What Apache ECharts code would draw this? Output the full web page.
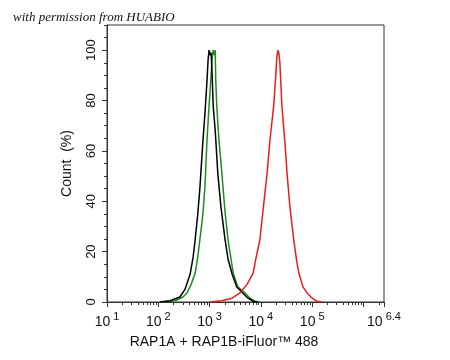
<!DOCTYPE html>
<html>
<head>
<meta charset="utf-8">
<script src="https://cdn.jsdelivr.net/npm/echarts@6/dist/echarts.min.js"></script>
<style>html,body{margin:0;padding:0;background:#fff}#c{width:450px;height:360px}</style>
</head>
<body>
<div id="c"></div>
<script>
// x values are log10(fluorescence intensity)
var blackX = [2.03,2.23,2.42,2.52,2.62,2.68,2.72,2.77,2.81,2.87,2.91,2.95,2.97,2.99,3.01,3.03,3.05,3.07,3.11,3.16,3.22,3.30,3.36,3.44,3.53,3.65,3.75,3.85,3.94];
var blackY = [0,0.5,2,5,11,18,25,35,45,64,75,88,96,100,98,99,90,78,68,51,38,25,17,11,6,3.5,1.5,0.3,0];
var greenX = [2.03,2.33,2.48,2.56,2.64,2.72,2.77,2.81,2.87,2.91,2.95,2.99,3.03,3.05,3.07,3.09,3.11,3.12,3.14,3.18,3.24,3.30,3.36,3.46,3.55,3.69,3.79,3.88,3.98];
var greenY = [0,0.5,2,3.6,7,11.5,18,24.7,35,46,64.5,78,90,97,100,98,100,88,77.7,65,51,36,24.7,11.5,6,3.6,1.5,0.3,0];
var redX = [3.01,3.24,3.44,3.59,3.73,3.85,3.90,3.98,4.04,4.12,4.18,4.25,4.29,4.31,4.33,4.35,4.37,4.41,4.47,4.51,4.57,4.64,4.70,4.74,4.82,4.90,5.00,5.09,5.19];
var redY = [0,0.5,1.5,3.6,7,11.5,17,24.7,36,51,65,78,90,97,100,99,95,78,63,51,37,24.7,16,11.5,6,3.6,1.5,0.3,0];

var xMajorTicks = [1,2,3,4,5,6,6.4];
var xLabelTicks = [1,2,3,4,5,6.4];
var yMajorTicks = [0,20,40,60,80,100];
var yMinorTicks = [5,10,15,25,30,35,45,50,55,65,70,75,85,90,95,105,110];

function zip(a,b){return a.map(function(v,i){return [v,b[i]];});}
var xMinorTicks = [];
for (var d = 1; d <= 6; d++) {
  for (var k = 2; k <= 9; k++) {
    var v = d + Math.log10(k);
    if (v < 6.4) xMinorTicks.push(v);
  }
}

var axisColor = '#333';
var chart = echarts.init(document.getElementById('c'), null, {renderer:'canvas'});
chart.setOption({
  animation:false,
  backgroundColor:'#fff',
  title:{
    text:'with permission from HUABIO',
    left:8, top:6,
    textStyle:{fontFamily:'Liberation Serif', fontStyle:'italic', fontWeight:'normal', fontSize:13, color:'#111'}
  },
  grid:{left:107, right:66, top:25, bottom:58, show:true, borderColor:axisColor, borderWidth:1, backgroundColor:'transparent'},
  xAxis:[{
    type:'value', min:1, max:6.4, interval:1,
    splitLine:{show:false},
    axisLine:{show:true, onZero:false, lineStyle:{color:axisColor, width:1}},
    axisTick:{show:true, customValues:xMajorTicks, length:5, lineStyle:{color:axisColor}},
    axisLabel:{
      customValues:xLabelTicks, margin:9, color:'#111',
      formatter:function(v){ var e = (Math.abs(v-6.4)<1e-6) ? '6.4' : String(Math.round(v)); return '{b|10}{s|' + e + '}'; },
      rich:{
        b:{fontFamily:'Liberation Sans', fontSize:14, color:'#111', verticalAlign:'bottom', lineHeight:18},
        s:{fontFamily:'Liberation Sans', fontSize:11, color:'#111', verticalAlign:'bottom', lineHeight:18, padding:[0,0,7,3]}
      }
    },
    name:'RAP1A + RAP1B-iFluor™ 488', nameLocation:'middle', nameGap:33,
    nameTextStyle:{fontFamily:'Liberation Sans', fontSize:14, color:'#111', padding:[0,43,0,0]}
  },{
    type:'value', min:1, max:6.4, position:'bottom',
    splitLine:{show:false},
    axisLine:{show:false},
    axisTick:{show:true, customValues:xMinorTicks, length:3, lineStyle:{color:axisColor}},
    axisLabel:{show:false}
  }],
  yAxis:[{
    type:'value', min:0, max:110, interval:20,
    splitLine:{show:false},
    axisLine:{show:true, onZero:false, lineStyle:{color:axisColor, width:1}},
    axisTick:{show:true, customValues:yMajorTicks, length:5, lineStyle:{color:axisColor}},
    axisLabel:{customValues:yMajorTicks, rotate:90, margin:9, fontFamily:'Liberation Sans', fontSize:13, color:'#111'},
    name:'Count  (%)', nameLocation:'middle', nameGap:33,
    nameTextStyle:{fontFamily:'Liberation Sans', fontSize:14, color:'#111'}
  },{
    type:'value', min:0, max:110, position:'left',
    splitLine:{show:false},
    axisLine:{show:false},
    axisTick:{show:true, customValues:yMinorTicks, length:3, lineStyle:{color:axisColor}},
    axisLabel:{show:false}
  }],
  series:[
    {type:'line', name:'green', data:zip(greenX,greenY), showSymbol:false, lineStyle:{color:'#1e8c1e', width:1.5}, itemStyle:{color:'#1e8c1e'}},
    {type:'line', name:'black', data:zip(blackX,blackY), showSymbol:false, lineStyle:{color:'#000', width:1.5}, itemStyle:{color:'#000'}},
    {type:'line', name:'red', data:zip(redX,redY), showSymbol:false, lineStyle:{color:'#ee1b1b', width:1.5}, itemStyle:{color:'#ee1b1b'}}
  ]
});
</script>
</body>
</html>
